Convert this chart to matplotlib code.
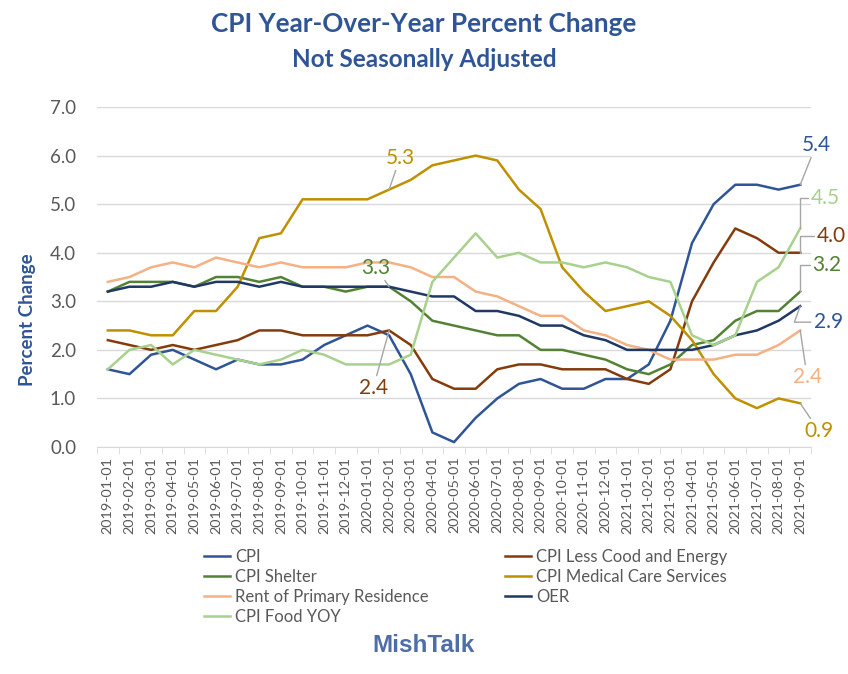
import numpy as np
import matplotlib as mpl
mpl.use('Agg')
import matplotlib.pyplot as plt

plt.rcParams['font.family'] = ['Lato', 'DejaVu Sans']

months = ["2019-%02d-01" % m for m in range(1, 13)] + \
         ["2020-%02d-01" % m for m in range(1, 13)] + \
         ["2021-%02d-01" % m for m in range(1, 10)]

cpi = [1.6, 1.5, 1.9, 2.0, 1.8, 1.6, 1.8, 1.7, 1.7, 1.8, 2.1, 2.3,
       2.5, 2.3, 1.5, 0.3, 0.1, 0.6, 1.0, 1.3, 1.4, 1.2, 1.2, 1.4,
       1.4, 1.7, 2.6, 4.2, 5.0, 5.4, 5.4, 5.3, 5.4]
core = [2.2, 2.1, 2.0, 2.1, 2.0, 2.1, 2.2, 2.4, 2.4, 2.3, 2.3, 2.3,
        2.3, 2.4, 2.1, 1.4, 1.2, 1.2, 1.6, 1.7, 1.7, 1.6, 1.6, 1.6,
        1.4, 1.3, 1.6, 3.0, 3.8, 4.5, 4.3, 4.0, 4.0]
shelter = [3.2, 3.4, 3.4, 3.4, 3.3, 3.5, 3.5, 3.4, 3.5, 3.3, 3.3, 3.2,
           3.3, 3.3, 3.0, 2.6, 2.5, 2.4, 2.3, 2.3, 2.0, 2.0, 1.9, 1.8,
           1.6, 1.5, 1.7, 2.1, 2.2, 2.6, 2.8, 2.8, 3.2]
medical = [2.4, 2.4, 2.3, 2.3, 2.8, 2.8, 3.3, 4.3, 4.4, 5.1, 5.1, 5.1,
           5.1, 5.3, 5.5, 5.8, 5.9, 6.0, 5.9, 5.3, 4.9, 3.7, 3.2, 2.8,
           2.9, 3.0, 2.7, 2.2, 1.5, 1.0, 0.8, 1.0, 0.9]
rent = [3.4, 3.5, 3.7, 3.8, 3.7, 3.9, 3.8, 3.7, 3.8, 3.7, 3.7, 3.7,
        3.8, 3.8, 3.7, 3.5, 3.5, 3.2, 3.1, 2.9, 2.7, 2.7, 2.4, 2.3,
        2.1, 2.0, 1.8, 1.8, 1.8, 1.9, 1.9, 2.1, 2.4]
oer = [3.2, 3.3, 3.3, 3.4, 3.3, 3.4, 3.4, 3.3, 3.4, 3.3, 3.3, 3.3,
       3.3, 3.3, 3.2, 3.1, 3.1, 2.8, 2.8, 2.7, 2.5, 2.5, 2.3, 2.2,
       2.0, 2.0, 2.0, 2.0, 2.1, 2.3, 2.4, 2.6, 2.9]
food = [1.6, 2.0, 2.1, 1.7, 2.0, 1.9, 1.8, 1.7, 1.8, 2.0, 1.9, 1.7,
        1.7, 1.7, 1.9, 3.4, 3.9, 4.4, 3.9, 4.0, 3.8, 3.8, 3.7, 3.8,
        3.7, 3.5, 3.4, 2.3, 2.1, 2.3, 3.4, 3.7, 4.5]

series = [
    ("CPI", cpi, "#2F5597"),
    ("CPI Less Cood and Energy", core, "#843C0C"),
    ("CPI Shelter", shelter, "#548235"),
    ("CPI Medical Care Services", medical, "#BF9000"),
    ("Rent of Primary Residence", rent, "#F4B183"),
    ("OER", oer, "#203864"),
    ("CPI Food YOY", food, "#A9D18E"),
]

fig = plt.figure(figsize=(8.48, 6.74), dpi=100)
ax = fig.add_axes([0.1144, 0.3368, 0.842, 0.5044])
x = np.arange(len(months))
lines = []
for name, vals, col in series:
    l, = ax.plot(x, vals, color=col, lw=1.8, label=name)
    lines.append(l)

ax.set_xlim(-0.5, len(months) - 0.5)
ax.set_ylim(0, 7)
ax.set_yticks(np.arange(0, 7.1, 1.0))
ax.set_yticklabels(["%.1f" % v for v in np.arange(0, 7.1, 1.0)])
ax.set_xticks(x)
ax.set_xticklabels(months, rotation=90)
ax.set_xticks(np.arange(-0.5, len(months)), minor=True)
ax.tick_params(axis='x', which='major', length=0, labelsize=10.4, colors='#595959', pad=7)
ax.tick_params(axis='x', which='minor', length=5, color='#D9D9D9')
ax.tick_params(axis='y', length=0, labelsize=13.5, colors='#595959', pad=15)
ax.grid(axis='y', color='#D9D9D9', lw=1)
ax.set_axisbelow(True)
for s in ['top', 'right', 'left']:
    ax.spines[s].set_visible(False)
ax.spines['bottom'].set_color('#D9D9D9')

fig.text(27 / 848, 1 - 320 / 674, "Percent Change", rotation=90, ha='center', va='center',
         color='#2F5597', fontsize=13.5, fontweight='bold')

fig.text(0.5, 0.964, "CPI Year-Over-Year Percent Change", ha='center', va='center',
         fontsize=18.8, fontweight='bold', color='#2F5597')
fig.text(0.5, 0.912, "Not Seasonally Adjusted", ha='center', va='center',
         fontsize=17.5, fontweight='bold', color='#2F5597')

# data labels
gray = '#A6A6A6'
last = len(months) - 1
def label(i, vals, col, dx, dy, conn='arc3'):
    ax.annotate("%.1f" % vals[i], xy=(i, vals[i]), xytext=(dx, dy),
                textcoords='offset pixels', ha='center', va='center',
                fontsize=15, color=col,
                arrowprops=dict(arrowstyle='-', color=gray, lw=1,
                                connectionstyle=conn, shrinkA=0, shrinkB=0))

elbow = 'angle,angleA=0,angleB=90,rad=0'
label(last, cpi, "#2F5597", 16, 40)
label(last, food, "#A9D18E", 25, 30, elbow)
label(last, core, "#843C0C", 31, 17, elbow)
label(last, shelter, "#548235", 27, 27, elbow)
label(last, oer, "#2F5597", 28, -16, 'angle,angleA=0,angleB=70,rad=0')
label(last, rent, "#F4B183", 7, -47)
label(last, medical, "#BF9000", 19, -28)
label(13, medical, "#BF9000", 11, 32)
label(13, shelter, "#548235", -13, 19)
label(13, core, "#843C0C", -16, -58)

# excel legend fills row by row
order = [0, 2, 4, 6, 1, 3, 5]
leg = fig.legend(handles=[lines[k] for k in order], loc='upper left',
                 bbox_to_anchor=(0.233, 0.196),
                 ncol=2, frameon=False, fontsize=12, handlelength=1.55,
                 handletextpad=0.3, columnspacing=4.6, labelspacing=0.25,
                 borderaxespad=0)
for t in leg.get_texts():
    t.set_color('#595959')

fig.text(0.5, 0.043, "MishTalk", ha='center', va='center', fontsize=17.5,
         fontweight='bold', color='#4F6EA8', family='Liberation Sans')

fig.savefig("out.png", dpi=100)
